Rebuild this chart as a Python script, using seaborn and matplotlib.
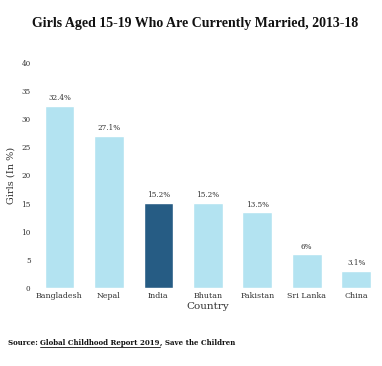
import matplotlib
matplotlib.use("Agg")
import matplotlib.pyplot as plt
import seaborn as sns
import pandas as pd

countries = ["Bangladesh", "Nepal", "India", "Bhutan", "Pakistan", "Sri Lanka", "China"]
values = [32.4, 27.1, 15.2, 15.2, 13.5, 6, 3.1]
value_labels = ["32.4%", "27.1%", "15.2%", "15.2%", "13.5%", "6%", "3.1%"]
yticks = [0, 5, 10, 15, 20, 25, 30, 35, 40]

light = "#b3e3f1"
dark = "#265c84"
colors = [dark if c == "India" else light for c in countries]

sns.set_theme(style="white")
plt.rcParams["font.family"] = ["DejaVu Serif"]

df = pd.DataFrame({"Country": countries, "Value": values})

fig = plt.figure(figsize=(3.82, 3.66), dpi=100)
ax = fig.add_axes([0.091, 0.213, 0.906, 0.615])
sns.barplot(data=df, x="Country", y="Value", hue="Country", palette=colors,
            legend=False, width=0.6, ax=ax, saturation=1)

for i, (v, lab) in enumerate(zip(values, value_labels)):
    ax.text(i, v + 0.6, lab, ha="center", va="bottom", fontsize=5.2, color="#333333")

ax.set_ylim(0, 40)
ax.set_xlim(-0.5, len(countries) - 0.5)
ax.set_yticks(yticks)
ax.set_yticklabels([str(t) for t in yticks], fontsize=5.2, color="#333333")
ax.tick_params(axis="x", labelsize=5.7, colors="#333333", length=0, pad=3)
ax.tick_params(axis="y", length=0, pad=3)
ax.set_xlabel("Country", fontsize=7.5, color="#333333", labelpad=1)
ax.set_ylabel("Girls (In %)", fontsize=7, color="#333333", labelpad=4)
for s in ax.spines.values():
    s.set_visible(False)

fig.text(0.51, 0.937, "Girls Aged 15-19 Who Are Currently Married, 2013-18",
         ha="center", va="center", fontsize=10, fontweight="bold", color="#111111",
         family=["Liberation Serif"])

# Source line with underlined link text
fig.canvas.draw()
r = fig.canvas.get_renderer()
fs = 5.0
t1 = fig.text(0.021, 0.058, "Source: ", ha="left", va="baseline", fontsize=fs,
              fontweight="bold", color="#111111")
bb1 = t1.get_window_extent(r).transformed(fig.transFigure.inverted())
t2 = fig.text(bb1.x1, 0.058, "Global Childhood Report 2019", ha="left", va="baseline",
              fontsize=fs, fontweight="bold", color="#111111")
bb2 = t2.get_window_extent(r).transformed(fig.transFigure.inverted())
fig.add_artist(plt.Line2D([bb2.x0, bb2.x1], [0.052, 0.052], color="#111111", lw=0.6,
                          transform=fig.transFigure))
fig.text(bb2.x1, 0.058, ", Save the Children", ha="left", va="baseline", fontsize=fs,
         fontweight="bold", color="#111111")

fig.savefig("out.png", dpi=100)
